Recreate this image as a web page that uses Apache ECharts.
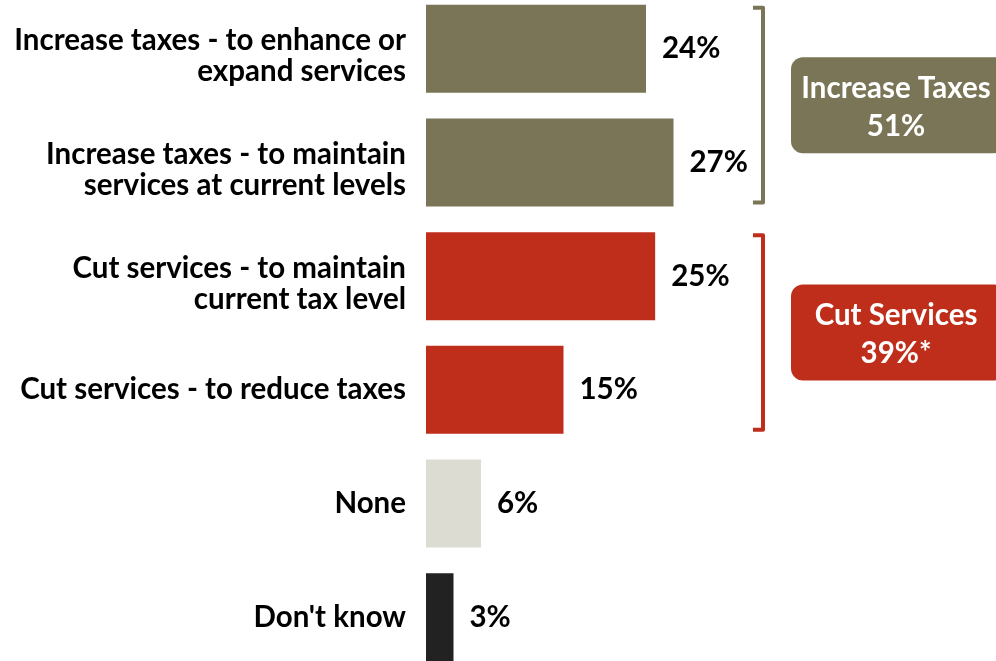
<!DOCTYPE html>
<html><head><meta charset="utf-8">
<script src="https://cdn.jsdelivr.net/npm/echarts@6/dist/echarts.min.js"></script>
<style>
html,body{margin:0;padding:0;background:#fff;overflow:hidden;width:996px;height:661px}
#wrap{position:relative;width:996px;height:661px;overflow:hidden}
#c{position:absolute;left:0;top:-8px;width:996px;height:682px}
</style>
</head><body><div id="wrap"><div id="c"></div></div>
<script>
const categories = [
  "Increase taxes - to enhance or\nexpand services",
  "Increase taxes - to maintain\nservices at current levels",
  "Cut services - to maintain\ncurrent tax level",
  "Cut services - to reduce taxes",
  "None",
  "Don't know"
];
const values = [24, 27, 25, 15, 6, 3];
const barColors = ["#7a7556", "#7a7556", "#bf2e1b", "#bf2e1b", "#dcdcd3", "#222222"];
const groupNames = ["Increase Taxes", "Cut Services"];
const groupTotals = ["51%", "39%*"];
const groupFrom = [0, 2];
const groupTo = [1, 3];
const groupColors = ["#7a7556", "#bf2e1b"];

const FONT = "Lato";
const FS = 29.5;
const chart = echarts.init(document.getElementById('c'), null, {renderer: 'canvas'});
chart.setOption({
  animation: false,
  backgroundColor: '#fff',
  grid: {left: 426, right: 20, top: 0, bottom: 0, containLabel: false},
  xAxis: {type: 'value', min: 0, max: 60, show: false},
  yAxis: {
    type: 'category', inverse: true, data: categories,
    axisLine: {show: false}, axisTick: {show: false},
    axisLabel: {
      margin: 20, color: '#000', fontFamily: FONT, fontWeight: 'bold', fontSize: FS, lineHeight: 31, align: 'right',
      formatter: function (v) {
        if (v.indexOf('\n') < 0) return v;
        return '{s| }\n' + v.split('\n').map(l => '{t|' + l + '}').join('\n');
      },
      rich: {
        s: {fontSize: 2, lineHeight: 15},
        t: {color: '#000', fontFamily: FONT, fontWeight: 'bold', fontSize: FS, lineHeight: 31}
      }
    }
  },
  series: [{
    type: 'bar', barWidth: 88,
    data: values.map((v, i) => ({value: v, itemStyle: {color: barColors[i]}})),
    label: {show: true, position: 'right', distance: 16, formatter: '{c}%', color: '#000', fontFamily: FONT, fontWeight: 'bold', fontSize: FS}
  }]
});

const graphics = [];
for (let g = 0; g < groupNames.length; g++) {
  const top = chart.convertToPixel({yAxisIndex: 0}, groupFrom[g]) - 41;
  const bottom = chart.convertToPixel({yAxisIndex: 0}, groupTo[g]) + 40;
  const mid = (top + bottom) / 2;
  graphics.push({
    type: 'polyline',
    shape: {points: [[753, top], [763, top], [763, bottom], [753, bottom]]},
    style: {stroke: groupColors[g], lineWidth: 4, fill: null, lineJoin: 'round'}
  });
  graphics.push({
    type: 'rect',
    shape: {x: 791, y: mid - 48, width: 215, height: 96, r: 12},
    style: {fill: groupColors[g]}
  });
  graphics.push({
    type: 'text',
    x: 896, y: mid + 2,
    style: {text: groupNames[g] + '\n' + groupTotals[g], fill: '#fff', font: 'bold ' + FS + 'px ' + FONT, lineHeight: 38, align: 'center', verticalAlign: 'middle'}
  });
}
chart.setOption({graphic: graphics});
</script></body></html>
